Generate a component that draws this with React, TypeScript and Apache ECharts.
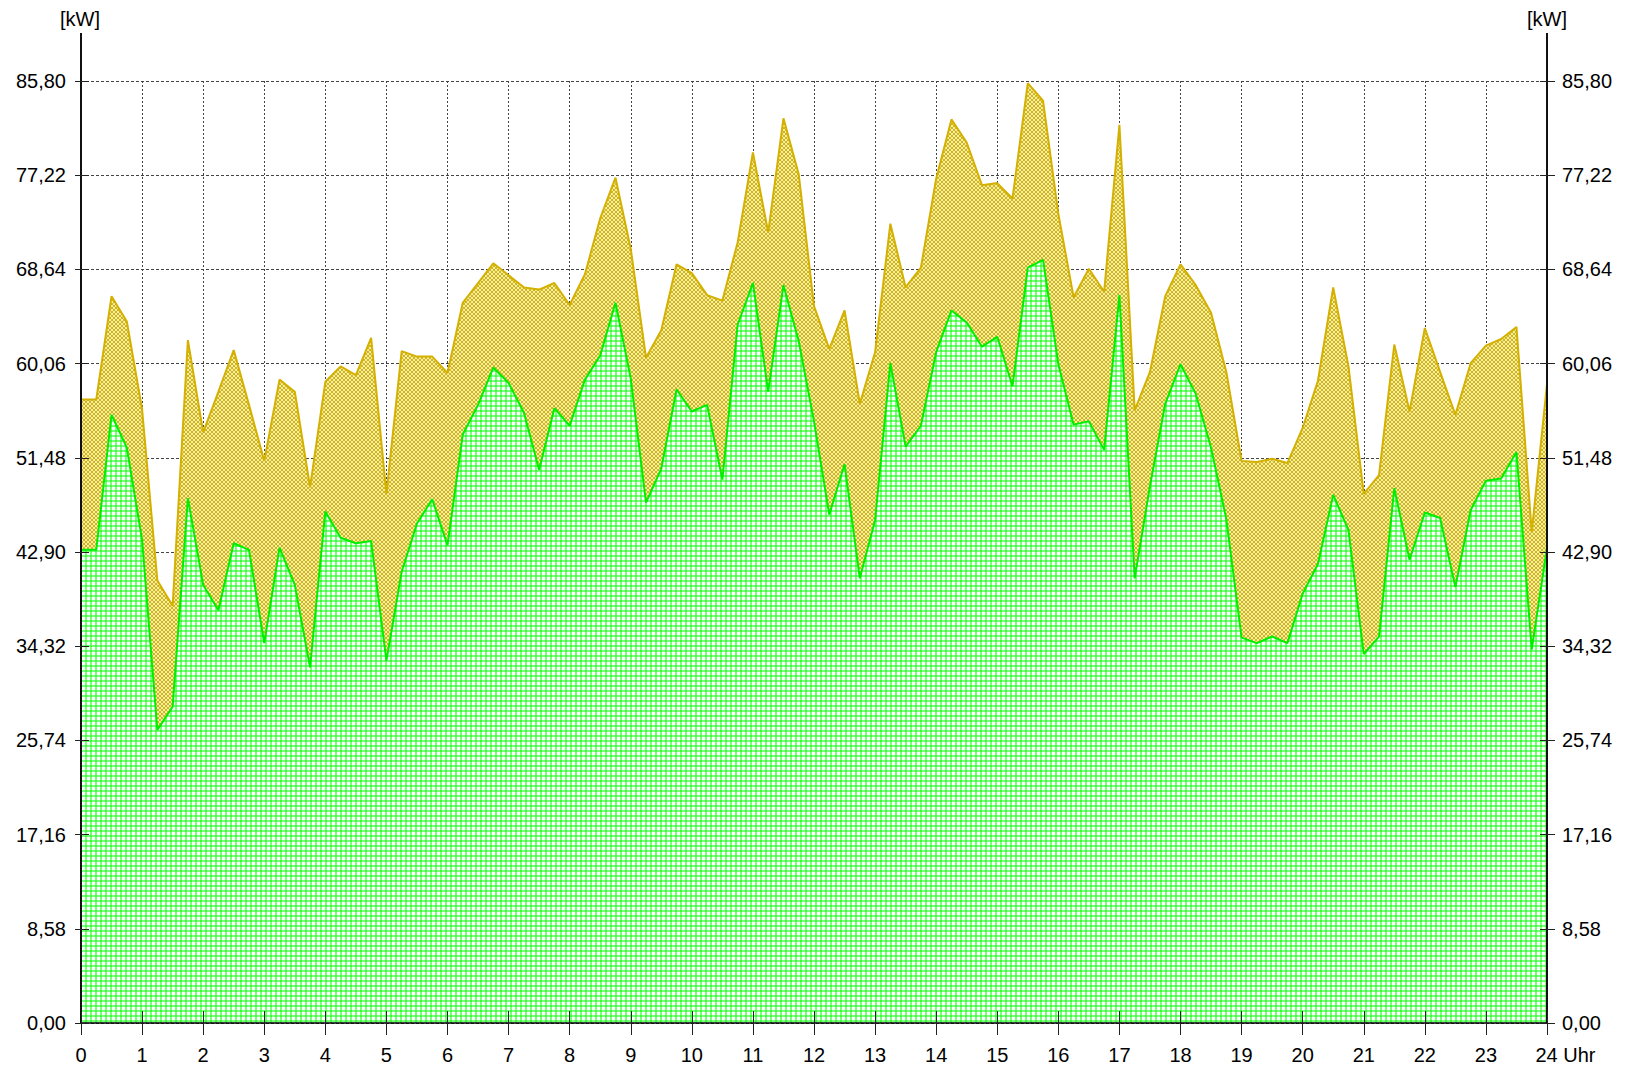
import React, { useEffect, useRef } from 'react';
import * as echarts from 'echarts';

// x tick labels (hours)
const hourLabels = ['0','1','2','3','4','5','6','7','8','9','10','11','12','13','14','15','16','17','18','19','20','21','22','23','24'];
const unitX = 'Uhr';
const unitY = '[kW]';

// y ticks
const yMax = 85.8;
const yStep = 8.58;

// 15-minute values, 00:00 .. 24:00 (97 points)
const totalKW = [
  56.8, 56.8, 66.2, 63.9, 55.9, 40.3, 38.0, 62.2,
  53.8, 57.5, 61.3, 56.3, 51.2, 58.6, 57.5, 48.8,
  58.4, 59.8, 59.0, 62.4, 48.2, 61.2, 60.7, 60.7,
  59.2, 65.6, 67.4, 69.2, 68.1, 67.0, 66.8, 67.4,
  65.4, 68.2, 73.3, 77.0, 70.5, 60.6, 63.1, 69.1,
  68.3, 66.3, 65.8, 71.1, 79.3, 72.0, 82.4, 77.3,
  65.3, 61.4, 64.9, 56.4, 61.1, 72.8, 67.0, 68.8,
  76.9, 82.3, 80.2, 76.3, 76.5, 75.1, 85.6, 84.0,
  73.7, 66.1, 68.7, 66.6, 81.8, 55.8, 59.3, 66.2,
  69.1, 67.2, 64.7, 59.3, 51.2, 51.1, 51.4, 51.0,
  54.2, 58.5, 67.0, 59.8, 48.2, 49.9, 61.8, 55.7,
  63.3, 59.3, 55.4, 60.1, 61.7, 62.3, 63.4, 44.7,
  58.2
];

const greenKW = [
  43.1, 43.1, 55.4, 52.4, 44.0, 26.7, 28.8, 47.8,
  39.9, 37.6, 43.7, 43.1, 34.6, 43.3, 39.9, 32.4,
  46.6, 44.2, 43.7, 43.9, 33.0, 41.1, 45.5, 47.7,
  43.5, 53.6, 56.3, 59.7, 58.3, 55.6, 50.4, 56.0,
  54.4, 58.6, 60.8, 65.6, 58.7, 47.4, 50.5, 57.7,
  55.7, 56.3, 49.5, 63.6, 67.4, 57.5, 67.2, 62.1,
  54.8, 46.3, 50.9, 40.5, 45.8, 60.1, 52.5, 54.4,
  61.1, 64.9, 63.8, 61.6, 62.5, 58.0, 68.8, 69.5,
  60.0, 54.5, 54.8, 52.2, 66.3, 40.5, 48.9, 56.4,
  60.0, 57.3, 52.4, 45.9, 35.1, 34.6, 35.2, 34.6,
  39.1, 41.8, 48.1, 44.9, 33.6, 35.2, 48.7, 42.2,
  46.5, 46.0, 39.7, 46.7, 49.4, 49.6, 52.0, 34.0,
  43.3
];

const FONT = 'Liberation Sans, Arial, Helvetica, sans-serif';

function makeGreenTile() {
  const c = document.createElement('canvas');
  c.width = 5; c.height = 5;
  const g = c.getContext('2d')!;
  g.fillStyle = '#ffffff';
  g.fillRect(0, 0, 5, 5);
  g.fillStyle = 'rgba(0,255,0,0.52)';
  g.fillRect(0, 0, 2, 5);
  g.fillRect(0, 0, 5, 2);
  return c;
}

function makeYellowTile() {
  const c = document.createElement('canvas');
  c.width = 4; c.height = 4;
  const g = c.getContext('2d')!;
  g.fillStyle = '#ffffff';
  g.fillRect(0, 0, 4, 4);
  g.strokeStyle = '#d2b600';
  g.lineWidth = 1.05;
  for (let k = -3; k <= 3; k++) {
    const o = k * 4;
    g.beginPath();
    g.moveTo(o - 1, -1); g.lineTo(o + 6, 6);
    g.stroke();
    g.beginPath();
    g.moveTo(o + 1, -1); g.lineTo(o - 6, 6);
    g.stroke();
  }
  return c;
}

export default function App() {
  const ref = useRef<HTMLDivElement>(null);
  useEffect(() => {
    const chart = echarts.init(ref.current!, null, { renderer: 'svg' });
    const greenTile = makeGreenTile();
    const yellowTile = makeYellowTile();
    const toPairs = (arr: number[]) => arr.map((v, i) => [i / 4, v]);
    const yFmt = (v: number) => v.toFixed(2).replace('.', ',');
    const xFmt = (v: number) => (v === 24 ? '{pad|}' + hourLabels[v] + ' ' + unitX : hourLabels[v]);
    const labelStyle = { color: '#000', fontSize: 20, fontFamily: FONT };
    const xBase = { type: 'value', min: 0, max: 24, interval: 1, position: 'bottom', axisLine: { onZero: false } };
    const yBase = { type: 'value', min: 0, max: yMax, interval: yStep };

    chart.setOption({
      animation: false,
      backgroundColor: '#ffffff',
      grid: { left: 81, right: 78, top: 81, bottom: 48, containLabel: false },
      xAxis: [
        { ...xBase, z: 0, axisLine: { show: false, onZero: false }, axisTick: { show: false }, axisLabel: { show: false },
          splitLine: { show: true, lineStyle: { color: '#444', type: [2, 2], width: 1 } } },
        { ...xBase, z: 10, axisLine: { show: true, onZero: false, lineStyle: { color: '#000', width: 1.5 } },
          axisTick: { show: true, inside: false, length: 12, lineStyle: { color: '#222', width: 1 } },
          axisLabel: { show: true, margin: 22, ...labelStyle, formatter: xFmt, rich: { pad: { width: 37 } } },
          splitLine: { show: false } },
        { ...xBase, z: 10, axisLine: { show: false, onZero: false },
          axisTick: { show: true, inside: true, length: 12, lineStyle: { color: '#222', width: 1 } },
          axisLabel: { show: false }, splitLine: { show: false } }
      ],
      yAxis: [
        { ...yBase, position: 'left', z: 0, axisLine: { show: false }, axisTick: { show: false }, axisLabel: { show: false },
          splitLine: { show: true, lineStyle: { color: '#444', type: [3, 2], width: 1 } } },
        { ...yBase, position: 'left', z: 10, axisLine: { show: true, lineStyle: { color: '#111', width: 2 } },
          axisTick: { show: true, inside: false, length: 6, lineStyle: { color: '#222', width: 1 } },
          axisLabel: { show: true, margin: 15, ...labelStyle, formatter: yFmt }, splitLine: { show: false } },
        { ...yBase, position: 'left', z: 10, axisLine: { show: false },
          axisTick: { show: true, inside: true, length: 8, lineStyle: { color: '#222', width: 1 } },
          axisLabel: { show: false }, splitLine: { show: false } },
        { ...yBase, position: 'right', z: 10, axisLine: { show: true, lineStyle: { color: '#111', width: 2 } },
          axisTick: { show: true, inside: false, length: 8, lineStyle: { color: '#222', width: 1 } },
          axisLabel: { show: true, margin: 15, ...labelStyle, formatter: yFmt }, splitLine: { show: false } },
        { ...yBase, position: 'right', z: 10, axisLine: { show: false },
          axisTick: { show: true, inside: true, length: 7, lineStyle: { color: '#222', width: 1 } },
          axisLabel: { show: false }, splitLine: { show: false } }
      ],
      graphic: [
        { type: 'line', z: 20, shape: { x1: 81, y1: 33, x2: 81, y2: 81 }, style: { stroke: '#111', lineWidth: 2 } },
        { type: 'line', z: 20, shape: { x1: 1547, y1: 33, x2: 1547, y2: 81 }, style: { stroke: '#111', lineWidth: 2 } },
        { type: 'text', z: 20, x: 80, y: 19, style: { text: unitY, fill: '#000', font: '20px ' + FONT, textAlign: 'center', textVerticalAlign: 'middle' } },
        { type: 'text', z: 20, x: 1547, y: 19, style: { text: unitY, fill: '#000', font: '20px ' + FONT, textAlign: 'center', textVerticalAlign: 'middle' } }
      ],
      series: [
        {
          type: 'line', name: 'Gesamt', xAxisIndex: 0, yAxisIndex: 0, z: 2,
          data: toPairs(totalKW), showSymbol: false, symbol: 'none',
          lineStyle: { color: '#d4b000', width: 2 },
          areaStyle: { color: { image: yellowTile, repeat: 'repeat', imageWidth: 4, imageHeight: 4 } as any, opacity: 1 }
        },
        {
          type: 'line', name: 'Grün', xAxisIndex: 0, yAxisIndex: 0, z: 3,
          data: toPairs(greenKW), showSymbol: false, symbol: 'none',
          lineStyle: { color: '#00ee00', width: 2 },
          areaStyle: { color: { image: greenTile, repeat: 'repeat', imageWidth: 5, imageHeight: 5 } as any, opacity: 1 }
        }
      ]
    });
    return () => chart.dispose();
  }, []);
  return <div ref={ref} style={{ position: 'fixed', left: 0, top: 0, width: 1625, height: 1071, background: '#fff' }} />;
}
